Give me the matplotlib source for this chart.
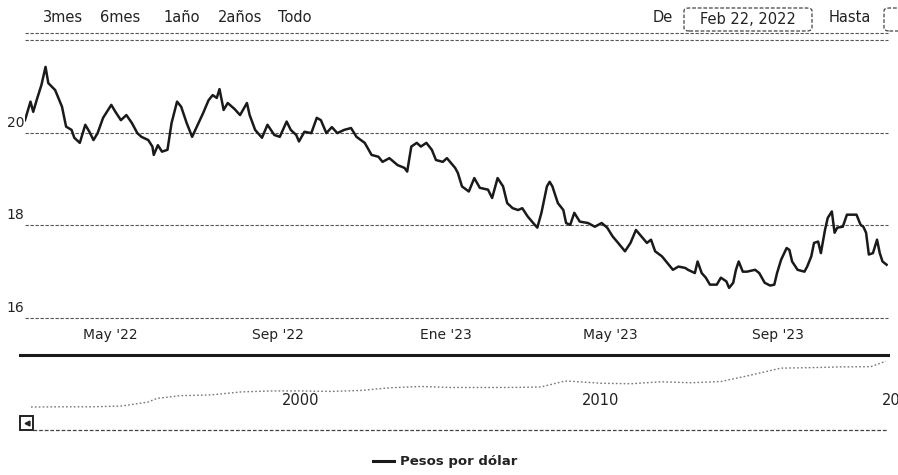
import matplotlib
matplotlib.use("Agg")
import matplotlib.pyplot as plt
import matplotlib.transforms as mtrans
from matplotlib.lines import Line2D
from matplotlib.patches import FancyBboxPatch, Rectangle
import numpy as np

# ---------------- data ----------------
dates = [
    "2022-02-28", "2022-03-04", "2022-03-06", "2022-03-09", "2022-03-12", "2022-03-15",
    "2022-03-17", "2022-03-22", "2022-03-27", "2022-03-30", "2022-04-03", "2022-04-05",
    "2022-04-09", "2022-04-13", "2022-04-16", "2022-04-19", "2022-04-22", "2022-04-26",
    "2022-05-02", "2022-05-05", "2022-05-09", "2022-05-13", "2022-05-17", "2022-05-21",
    "2022-05-24", "2022-05-29", "2022-06-01", "2022-06-02", "2022-06-05", "2022-06-08",
    "2022-06-12", "2022-06-15", "2022-06-19", "2022-06-22", "2022-06-26", "2022-06-30",
    "2022-07-03", "2022-07-08", "2022-07-12", "2022-07-15", "2022-07-18", "2022-07-20",
    "2022-07-23", "2022-07-26", "2022-07-31", "2022-08-04", "2022-08-09", "2022-08-11",
    "2022-08-15", "2022-08-20", "2022-08-24", "2022-08-29", "2022-09-02", "2022-09-07",
    "2022-09-10", "2022-09-14", "2022-09-16", "2022-09-20", "2022-09-25", "2022-09-29",
    "2022-10-02", "2022-10-06", "2022-10-10", "2022-10-14", "2022-10-19", "2022-10-24",
    "2022-10-28", "2022-11-03", "2022-11-08", "2022-11-13", "2022-11-16", "2022-11-21",
    "2022-11-27", "2022-12-02", "2022-12-04", "2022-12-07", "2022-12-11", "2022-12-14",
    "2022-12-18", "2022-12-22", "2022-12-25", "2022-12-30", "2023-01-02", "2023-01-08",
    "2023-01-10", "2023-01-13", "2023-01-18", "2023-01-22", "2023-01-26", "2023-02-01",
    "2023-02-04", "2023-02-08", "2023-02-12", "2023-02-15", "2023-02-19", "2023-02-23",
    "2023-02-26", "2023-03-02", "2023-03-06", "2023-03-09", "2023-03-12", "2023-03-16",
    "2023-03-18", "2023-03-20", "2023-03-24", "2023-03-28", "2023-03-30", "2023-04-02",
    "2023-04-05", "2023-04-09", "2023-04-15", "2023-04-20", "2023-04-25", "2023-04-29",
    "2023-05-03", "2023-05-07", "2023-05-12", "2023-05-16", "2023-05-20", "2023-05-24",
    "2023-05-28", "2023-05-31", "2023-06-03", "2023-06-08", "2023-06-13", "2023-06-16",
    "2023-06-20", "2023-06-25", "2023-06-27", "2023-07-02", "2023-07-04", "2023-07-07",
    "2023-07-10", "2023-07-13", "2023-07-18", "2023-07-21", "2023-07-25", "2023-07-27",
    "2023-07-30", "2023-08-01", "2023-08-03", "2023-08-06", "2023-08-09", "2023-08-15",
    "2023-08-18", "2023-08-22", "2023-08-26", "2023-08-29", "2023-08-31", "2023-09-03",
    "2023-09-07", "2023-09-09", "2023-09-11", "2023-09-15", "2023-09-20", "2023-09-22",
    "2023-09-25", "2023-09-27", "2023-09-30", "2023-10-02", "2023-10-05", "2023-10-07",
    "2023-10-10", "2023-10-12", "2023-10-14", "2023-10-18", "2023-10-21", "2023-10-24",
    "2023-10-28", "2023-10-31", "2023-11-02", "2023-11-04", "2023-11-06", "2023-11-09",
    "2023-11-12", "2023-11-14", "2023-11-16", "2023-11-19",
]
pesos = [
    20.27, 20.67, 20.45, 20.75, 21.03, 21.42,
    21.07, 20.92, 20.56, 20.13, 20.06, 19.89,
    19.78, 20.17, 20.02, 19.84, 19.99, 20.32,
    20.60, 20.45, 20.27, 20.38, 20.21, 19.99,
    19.91, 19.84, 19.70, 19.52, 19.73, 19.59,
    19.63, 20.21, 20.67, 20.56, 20.21, 19.91,
    20.10, 20.42, 20.70, 20.81, 20.75, 20.94,
    20.49, 20.64, 20.51, 20.38, 20.64, 20.38,
    20.06, 19.89, 20.17, 19.95, 19.91, 20.24,
    20.06, 19.95, 19.81, 20.02, 19.99, 20.32,
    20.27, 19.99, 20.12, 19.99, 20.06, 20.10,
    19.91, 19.78, 19.52, 19.48, 19.37, 19.45,
    19.30, 19.24, 19.16, 19.70, 19.78, 19.70,
    19.78, 19.63, 19.41, 19.37, 19.45, 19.24,
    19.13, 18.84, 18.73, 19.02, 18.81, 18.77,
    18.59, 19.02, 18.84, 18.48, 18.37, 18.33,
    18.37, 18.19, 18.05, 17.95, 18.27, 18.84,
    18.94, 18.84, 18.48, 18.33, 18.05, 18.01,
    18.27, 18.08, 18.05, 17.97, 18.05, 17.95,
    17.76, 17.62, 17.44, 17.62, 17.90, 17.76,
    17.62, 17.69, 17.44, 17.33, 17.15, 17.04,
    17.11, 17.08, 17.04, 16.97, 17.22, 16.97,
    16.87, 16.72, 16.72, 16.87, 16.79, 16.65,
    16.76, 17.04, 17.22, 17.00, 17.00, 17.04,
    16.97, 16.76, 16.70, 16.72, 16.97, 17.26,
    17.51, 17.47, 17.22, 17.04, 17.00, 17.11,
    17.33, 17.62, 17.65, 17.40, 17.90, 18.16,
    18.30, 17.84, 17.95, 17.97, 18.23, 18.23,
    18.23, 18.01, 17.97, 17.84, 17.37, 17.40,
    17.69, 17.40, 17.22, 17.15,
]

x_range = ["2022-02-28", "2023-11-20"]
xtick_dates = ["2022-05-01", "2022-09-01", "2023-01-01", "2023-05-01", "2023-09-01"]
xtick_labels = ["May '22", "Sep '22", "Ene '23", "May '23", "Sep '23"]
y_ticks = [16, 18, 20, 22]
y_tick_labels = ["16", "18", "20", ""]

# navigator (full history)
nav_years = [1991, 1992, 1993, 1994, 1994.9, 1995.2, 1996, 1997, 1998, 1999, 2000,
             2001, 2002, 2003, 2004, 2005, 2006, 2007, 2008, 2008.8, 2009, 2010,
             2011, 2012, 2013, 2014, 2015, 2016, 2017, 2018, 2019, 2019.5]
nav_values = [3.0, 3.1, 3.1, 3.4, 5.0, 6.5, 7.6, 7.9, 9.1, 9.5, 9.5,
              9.3, 9.7, 10.8, 11.3, 10.9, 10.9, 10.9, 11.1, 13.5, 13.4, 12.6,
              12.4, 13.2, 12.8, 13.3, 15.9, 18.7, 18.9, 19.2, 19.3, 21.5]
nav_tick_years = [2000, 2010, 2020]

range_buttons = ["3mes", "6mes", "1año", "2años", "Todo"]
series_name = "Pesos por dólar"

# ---------------- figure ----------------
W, H = 898, 475
fig = plt.figure(figsize=(W / 100, H / 100), dpi=100)
fig.patch.set_facecolor("white")

def fx(px):
    return px / W

def fy(py):
    return 1 - py / H

TXT = "#222222"
GRID = "#555555"

# main axes
ax = fig.add_axes([fx(25), fy(318), (888 - 25) / W, (318 - 40) / H])
ax.plot(np.array(dates, dtype="datetime64[D]"), pesos, color="#1a1a1a", lw=1.8)
ax.set_xlim(np.array(x_range, dtype="datetime64[D]"))
ax.set_ylim(16, 22)
ax.set_yticks(y_ticks)
ax.set_yticklabels([])
ax.yaxis.grid(True, color=GRID, lw=0.8, ls=(0, (3, 1.5)))
for gl in ax.get_ygridlines():
    gl.set_clip_on(False)
ax.tick_params(axis="y", length=0)
ax.set_xticks(np.array(xtick_dates, dtype="datetime64[D]"))
ax.set_xticklabels(xtick_labels)
ax.tick_params(axis="x", length=0, pad=7, labelsize=10, labelcolor=TXT)
for s in ax.spines.values():
    s.set_visible(False)

ytrans = mtrans.blended_transform_factory(ax.transAxes, ax.transData) + \
    mtrans.ScaledTranslation(0, 10 / 100, fig.dpi_scale_trans)
for v, lab in zip(y_ticks, y_tick_labels):
    ax.text(-0.001, v, lab, transform=ytrans, ha="right", va="center",
            fontsize=10, color=TXT, clip_on=False)

# navigator
axn = fig.add_axes([fx(25), fy(412), (888 - 25) / W, (412 - 356) / H])
axn.plot(nav_years, nav_values, color="#777777", lw=1.0, ls=(0, (1.2, 1.6)))
axn.set_xlim(1990.8, 2019.57)
axn.set_ylim(1, 23.6)
axn.axis("off")
ntrans = mtrans.blended_transform_factory(axn.transData, axn.transAxes)
for yr in nav_tick_years:
    axn.text(yr, 0.21, str(yr), transform=ntrans, ha="center", va="center",
             fontsize=10.5, color=TXT, clip_on=False)

# thick navigator top outline
fig.add_artist(Line2D([fx(20), fx(888)], [fy(355), fy(355)], color="#1a1a1a", lw=2.2))
# scrollbar
fig.add_artist(Line2D([fx(33), fx(888)], [fy(430), fy(430)], color="#444444", lw=0.9,
                      ls=(0, (3, 1.5))))
fig.add_artist(Rectangle((fx(20), fy(430)), 13 / W, 14 / H, transform=fig.transFigure,
                         facecolor="white", edgecolor="#222222", lw=1.4))
fig.add_artist(Line2D([fx(26.5)], [fy(423)], marker="<", markersize=3.5,
                      color="#222222", lw=0))

# top separator
fig.add_artist(Line2D([fx(25), fx(888)], [fy(33), fy(33)], color=GRID, lw=0.8,
                      ls=(0, (3, 1.5))))

# range selector buttons
for label, px in zip(range_buttons, [43, 100, 163, 218, 278]):
    fig.text(fx(px), fy(18), label, ha="left", va="center", fontsize=10.5, color=TXT)

# date inputs
fig.text(fx(653), fy(18), "De", ha="left", va="center", fontsize=10.5, color=TXT)
fig.add_artist(FancyBboxPatch((fx(684), fy(31)), 128 / W, 23 / H,
                              boxstyle="round,pad=0,rounding_size=0.006",
                              transform=fig.transFigure, facecolor="white",
                              edgecolor="#444444", lw=0.9, ls=(0, (3, 1.5))))
fig.text(fx(748), fy(19), "Feb 22, 2022", ha="center", va="center", fontsize=10.5, color=TXT)
fig.text(fx(829), fy(18), "Hasta", ha="left", va="center", fontsize=10.5, color=TXT)
fig.add_artist(FancyBboxPatch((fx(884), fy(31)), 30 / W, 23 / H,
                              boxstyle="round,pad=0,rounding_size=0.006",
                              transform=fig.transFigure, facecolor="white",
                              edgecolor="#444444", lw=0.9, ls=(0, (3, 1.5))))

# legend
fig.add_artist(Line2D([fx(373), fx(394)], [fy(461), fy(461)], color="#1a1a1a", lw=2.2))
fig.text(fx(400), fy(461), series_name, ha="left", va="center", fontsize=9.5,
         fontweight="bold", color=TXT)

fig.savefig("out.png", dpi=100, facecolor="white")
